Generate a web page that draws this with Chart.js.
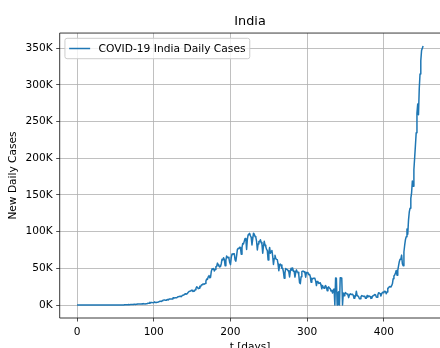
<!DOCTYPE html>
<html>
<head>
<meta charset="utf-8">
<script src="https://cdn.jsdelivr.net/npm/chart.js@4.4.1/dist/chart.umd.min.js"></script>
<style>
  html, body { margin: 0; padding: 0; overflow: hidden; background: #fff; }
  #wrap { position: relative; width: 442px; height: 354px; }
</style>
</head>
<body>
<div id="wrap"><canvas id="myChart"></canvas></div>
<script>
// daily new cases in thousands, day 0 = first case
const dailyCases = [
  // Jan 30 - Feb 29
  0, 0, 0, 0, 0, 0, 0, 0, 0, 0, 0, 0, 0, 0, 0, 0, 0, 0, 0, 0, 0, 0, 0, 0, 0, 0, 0, 0, 0, 0, 0,
  // Mar
  0, 0, 0, 0.02, 0, 0, 0, 0.01, 0.01, 0.02, 0, 0.01, 0.01, 0.02, 0.01, 0.01, 0.03, 0.01, 0.02, 0.05,
  0.07, 0.09, 0.07, 0.03, 0.07, 0.08, 0.16, 0.15, 0.11, 0.23, 0.15,
  // Apr
  0.44, 0.49, 0.57, 0.49, 0.56, 0.69, 0.55, 0.55, 0.81, 0.87, 0.85, 0.76, 1.24, 1.03, 0.82,
  1.08, 0.99, 1.39, 1.33, 1.54, 1.29, 1.48, 1.41, 1.68, 1.41, 1.99, 1.58, 1.54, 1.90, 1.72,
  // May
  2.39, 2.44, 2.57, 3.90, 2.96, 3.56, 3.34, 3.34, 3.12, 4.31, 3.60, 3.60, 3.73, 3.94, 4.00, 4.86,
  5.05, 5.24, 4.97, 5.79, 6.65, 6.76, 6.98, 6.54, 6.39, 7.26, 7.47, 7.03, 8.09, 8.09, 8.16,
  // Jun
  8.18, 8.28, 9.54, 9.85, 9.63, 9.89, 9.97, 9.99, 11.0, 11.4, 11.5, 11.9, 12.0, 11.5, 12.9,
  12.9, 13.6, 14.5, 15.4, 14.7, 14.9, 16.2, 17.3, 18.6, 18.6, 19.0, 20.0, 20.0, 18.6, 18.7,
  // Jul
  19.1, 20.9, 22.8, 24.9, 24.2, 22.3, 22.8, 25.6, 24.9, 27.1, 27.8, 28.6, 28.7, 28.5, 29.4, 32.7,
  35.5, 34.9, 38.7, 40.4, 37.1, 37.7, 45.7, 49.3, 48.9, 49.9, 46.5, 48.5, 52.1, 52.5, 57.1,
  // Aug
  54.7, 52.9, 52.0, 52.5, 56.3, 62.5, 61.5, 64.4, 62.1, 53.6, 60.9, 66.9, 64.6, 65.0, 63.5, 57.9,
  55.1, 64.5, 69.7, 68.9, 70.0, 69.9, 61.4, 59.7, 67.2, 75.8, 77.3, 76.7, 78.8, 78.5, 69.2,
  // Sep
  78.4, 83.9, 83.3, 87.1, 90.6, 90.8, 75.8, 89.7, 95.7, 96.6, 97.6, 94.4, 92.1, 81.9, 90.1,
  97.9, 96.4, 93.3, 92.6, 86.9, 75.1, 83.3, 86.5, 86.1, 89.0, 85.3, 82.8, 70.6, 80.5, 86.8,
  // Oct
  81.5, 79.5, 75.8, 74.4, 61.3, 72.0, 78.5, 70.5, 73.3, 74.4, 66.7, 55.3, 63.5, 67.7, 63.4, 62.2,
  61.9, 55.7, 46.8, 54.0, 55.8, 54.4, 50.1, 50.1, 45.1, 36.5, 43.9, 49.9, 48.6, 48.3, 46.9,
  // Nov
  45.2, 38.3, 46.3, 50.2, 47.6, 50.4, 46.0, 45.9, 38.1, 44.3, 47.9, 44.9, 44.7, 41.1, 30.5,
  29.2, 38.6, 45.6, 46.2, 46.2, 45.2, 44.1, 37.9, 44.4, 44.5, 43.1, 41.3, 41.8, 38.8, 31.1,
  // Dec
  36.6, 35.6, 36.6, 36.6, 36.0, 32.9, 26.6, 32.1, 31.5, 29.4, 30.0, 30.3, 27.1, 22.1, 26.4, 24.0,
  22.9, 25.2, 26.6, 24.3, 19.6, 23.9, 24.7, 23.1, 22.3, 19.0, 20.0, 16.4, 20.5, 21.8, 0,
  // Jan 2021
  37.0, 36.6, 0, 16.5, 18.1, 0, 37.2, 36.5, 36.9, 0, 16.3, 12.6, 15.9, 16.9, 15.6, 15.1,
  13.8, 10.1, 13.8, 15.2, 14.5, 14.3, 14.8, 13.2, 9.1, 12.7, 11.7, 18.9, 13.1, 13.1, 11.4,
  // Feb
  8.6, 8.6, 11.0, 12.9, 12.4, 11.7, 12.1, 11.8, 9.1, 9.1, 12.9, 11.0, 12.1, 12.2,
  11.6, 9.1, 9.1, 11.6, 12.9, 13.2, 14.3, 14.2, 11.0, 10.6, 13.7, 16.7, 16.5, 15.5,
  // Mar
  12.3, 15.0, 17.4, 16.8, 18.3, 18.7, 18.6, 15.4, 17.9, 22.9, 23.3, 24.9, 25.3, 24.5, 26.3, 28.9,
  35.9, 39.7, 41.0, 43.8, 47.0, 40.7, 47.3, 53.5, 59.1, 62.3, 62.7, 68.0, 56.2, 53.5, 72.3,
  // Apr
  81.5, 89.1, 93.2, 103.6, 96.6, 115.7, 126.8, 131.9, 145.4, 152.9, 168.9, 161.7, 184.4,
  200.7, 217.4, 234.7, 261.5, 273.8, 259.2, 295.0, 314.8, 332.7, 346.8, 349.7, 352.9
];
const xTicks = [0, 100, 200, 300, 400];
const yTicks = [0, 50, 100, 150, 200, 250, 300, 350];

const font = 'DejaVu Sans';
const lineColor = '#1f77b4';
const textColor = '#000';

// axes frame (right spine falls outside the picture) + boxed legend, like matplotlib
const frameAndLegend = {
  id: 'frameAndLegend',
  beforeDatasetsDraw(chart) {
    const ctx = chart.ctx;
    const a = chart.chartArea;
    ctx.save();
    ctx.strokeStyle = '#222';
    ctx.lineWidth = 0.9;
    ctx.beginPath();
    ctx.moveTo(a.right + 2, a.top);
    ctx.lineTo(a.left, a.top);
    ctx.lineTo(a.left, a.bottom);
    ctx.lineTo(a.right + 2, a.bottom);
    ctx.stroke();

    const label = chart.data.datasets[0].label;
    const fs = 10.7;
    ctx.font = fs + 'px "' + font + '"';
    const tw = ctx.measureText(label).width;
    const x = a.left + 5.25, y = a.top + 5.25;
    const w = 4.2 + 21 + 8.4 + tw + 4.2, h = 20.4;
    ctx.beginPath();
    ctx.roundRect(x, y, w, h, 2.1);
    ctx.fillStyle = 'rgba(255,255,255,0.8)';
    ctx.fill();
    ctx.strokeStyle = '#cccccc';
    ctx.lineWidth = 1;
    ctx.stroke();
    ctx.beginPath();
    ctx.moveTo(x + 4.2, y + h / 2);
    ctx.lineTo(x + 25.2, y + h / 2);
    ctx.strokeStyle = lineColor;
    ctx.lineWidth = 1.5;
    ctx.stroke();
    ctx.fillStyle = textColor;
    ctx.textBaseline = 'middle';
    ctx.fillText(label, x + 33.6, y + h / 2 + 0.5);
    ctx.restore();
  }
};

new Chart('myChart', {
  type: 'line',
  data: {
    datasets: [{
      label: 'COVID-19 India Daily Cases',
      data: dailyCases.map((v, i) => ({x: i, y: v})),
      borderColor: lineColor,
      borderWidth: 1.5,
      borderJoinStyle: 'round',
      pointRadius: 0,
      tension: 0,
      fill: false
    }]
  },
  options: {
    responsive: true,
    maintainAspectRatio: false,
    animation: false,
    layout: {padding: {left: 0, right: 1.6, top: 0, bottom: 0}},
    plugins: {
      legend: {display: false},
      tooltip: {enabled: false},
      title: {
        display: true,
        text: 'India',
        fullSize: false,
        color: textColor,
        font: {family: font, size: 12.8, weight: 'normal'},
        padding: {top: 14.3, bottom: 3.4}
      }
    },
    scales: {
      x: {
        type: 'linear',
        min: -22.55,
        max: 473.55,
        afterBuildTicks: s => { s.ticks = xTicks.map(v => ({value: v})); },
        afterFit: s => { s.height = 36; },
        grid: {color: '#b0b0b0', lineWidth: 0.8, tickColor: '#222', tickLength: 3.5},
        border: {display: false},
        ticks: {color: textColor, padding: 4, font: {family: font, size: 10.6}},
        title: {
          display: true, text: 't [days]', color: textColor,
          font: {family: font, size: 10.6}, padding: {top: 0, bottom: 0}
        }
      },
      y: {
        min: -17.645,
        max: 370.545,
        afterBuildTicks: s => { s.ticks = yTicks.map(v => ({value: v})); },
        afterFit: s => { s.width = 59.7; },
        grid: {color: '#b0b0b0', lineWidth: 0.8, tickColor: '#222', tickLength: 3.5},
        border: {display: false},
        ticks: {color: textColor, padding: 3.5, font: {family: font, size: 10.6}, callback: v => v + 'K'},
        title: {
          display: true, text: 'New Daily Cases', color: textColor,
          font: {family: font, size: 10.6}, padding: {top: 6.7, bottom: 0}
        }
      }
    }
  },
  plugins: [frameAndLegend]
});
</script>
</body>
</html>
